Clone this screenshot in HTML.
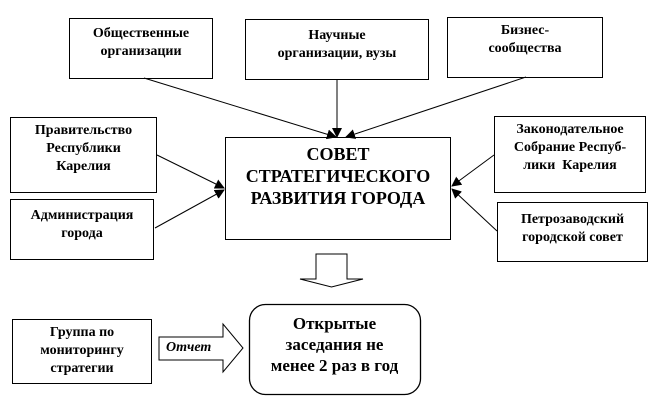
<!DOCTYPE html>
<html><head><meta charset="utf-8"><style>
body{margin:0;width:671px;height:409px;background:#fff;position:relative;overflow:hidden;font-family:"Liberation Serif","DejaVu Serif",serif;font-weight:bold;color:#000}
.b{position:absolute;border:1.3px solid #000;box-sizing:border-box;text-align:center;font-size:14px;line-height:18px}
</style></head><body>
<svg width="671" height="409" style="position:absolute;left:0;top:0">
<defs><marker id="a" markerWidth="10" markerHeight="10" refX="9" refY="5" orient="auto" markerUnits="userSpaceOnUse"><path d="M0,0 L10,5 L0,10 z" fill="#000"/></marker></defs>
<g stroke="#000" stroke-width="1" fill="none" marker-end="url(#a)">
<line x1="144" y1="78" x2="336" y2="137"/>
<line x1="337" y1="79" x2="337" y2="137"/>
<line x1="526" y1="77" x2="346" y2="137"/>
<line x1="157" y1="155" x2="224" y2="188"/>
<line x1="155" y1="228" x2="224" y2="190"/>
<line x1="494" y1="155" x2="452" y2="186"/>
<line x1="497" y1="231" x2="452" y2="189"/>
</g>
<path d="M316,254 H347 V279 H363 L331.5,287 L300,279 H316 Z" fill="#fff" stroke="#000" stroke-width="1"/>
<path d="M159,337 H223 V324 L243,348 L223,372 V360 H159 Z" fill="#fff" stroke="#000" stroke-width="1"/>
<rect x="249.5" y="304.5" width="171" height="90" rx="16" fill="#fff" stroke="#000" stroke-width="1.3"/>
</svg>
<div class="b" style="left:69px;top:18px;width:144px;height:61px;padding-top:6px">Общественные<br>организации</div>
<div class="b" style="left:245px;top:19px;width:184px;height:61px;padding-top:7px">Научные<br>организации, вузы</div>
<div class="b" style="left:447px;top:17px;width:156px;height:61px;padding-top:4px">Бизнес-<br>сообщества</div>
<div class="b" style="left:10px;top:117px;width:147px;height:76px;padding-top:4px">Правительство<br>Республики<br>Карелия</div>
<div class="b" style="left:10px;top:199px;width:144px;height:61px;padding-top:7px">Администрация<br>города</div>
<div class="b" style="left:225px;top:137px;width:226px;height:103px;padding-top:5px;font-size:18px;line-height:22px">СОВЕТ<br>СТРАТЕГИЧЕСКОГО<br>РАЗВИТИЯ ГОРОДА</div>
<div class="b" style="left:494px;top:116px;width:152px;height:77px;padding-top:4px">Законодательное<br>Собрание Респуб-<br>лики&nbsp; Карелия</div>
<div class="b" style="left:497px;top:202px;width:151px;height:60px;padding-top:8px">Петрозаводский<br>городской совет</div>
<div class="b" style="left:12px;top:319px;width:140px;height:65px;padding-top:4px">Группа по<br>мониторингу<br>стратегии</div>
<div style="position:absolute;left:166px;top:340px;font-size:14px;font-style:italic">Отчет</div>
<div style="position:absolute;left:249px;top:313px;width:171px;text-align:center;font-size:17px;line-height:21px">Открытые<br>заседания не<br>менее 2 раз в год</div>
</body></html>
